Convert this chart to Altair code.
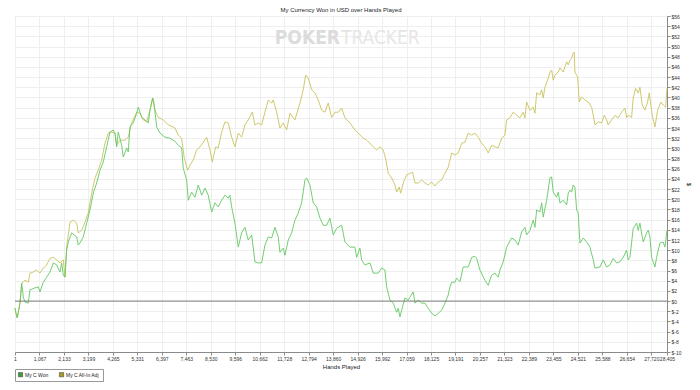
import altair as alt
import pandas as pd

chart_title = "My Currency Won in USD over Hands Played"
series_names = ["My C Won", "My C All-In Adj"]
line_colors = ["#62c862", "#c9c25c"]
legend_colors = ["#3d9e3d", "#a89f1e"]
x_ticks = [1, 1067, 2133, 3199, 4265, 5331, 6397, 7463, 8530, 9596, 10662, 11728,
           12794, 13860, 14926, 15992, 17059, 18125, 19191, 20257, 21323, 22389,
           23455, 24521, 25588, 26654, 27720, 28405]
y_ticks = list(range(-10, 57, 2))

won_hands = [1, 44, 100, 218, 292, 362, 436, 579, 653, 871,
             1015, 1089, 1233, 1381, 1525, 1668, 1816, 1960, 2034, 2104,
             2178, 2252, 2322, 2470, 2688, 2757, 2831, 2975, 3123, 3267,
             3411, 3559, 3703, 3846, 3994, 4138, 4282, 4356, 4430, 4500,
             4648, 4718, 4866, 4935, 5009, 5153, 5301, 5371, 5519, 5663,
             5807, 5881, 5998, 6055, 6173, 6316, 6534, 6752, 6970, 7114,
             7261, 7331, 7479, 7549, 7697, 7841, 7985, 8133, 8277, 8420,
             8569, 8712, 8856, 9004, 9148, 9291, 9365, 9440, 9583, 9727,
             9875, 10019, 10163, 10311, 10454, 10598, 10746, 10890, 11034, 11182,
             11326, 11469, 11543, 11687, 11761, 11905, 12053, 12197, 12341, 12489,
             12632, 12706, 12850, 12994, 13142, 13286, 13430, 13578, 13721, 13865,
             14013, 14157, 14231, 14375, 14593, 14810, 14885, 15028, 15102, 15246,
             15464, 15608, 15826, 15974, 16117, 16191, 16335, 16479, 16627, 16697,
             16771, 16845, 16988, 17132, 17206, 17350, 17424, 17568, 17716, 17860,
             18003, 18151, 18295, 18439, 18587, 18731, 18874, 18949, 19023, 19166,
             19240, 19384, 19528, 19746, 19894, 20038, 20112, 20255, 20473, 20617,
             20765, 20909, 21053, 21127, 21271, 21419, 21636, 21780, 21924, 22072,
             22216, 22290, 22434, 22578, 22652, 22726, 22870, 22944, 23013, 23162,
             23305, 23379, 23449, 23597, 23667, 23741, 23885, 24033, 24103, 24177,
             24251, 24320, 24394, 24468, 24538, 24612, 24756, 24904, 25047, 25191,
             25265, 25483, 25627, 25775, 25918, 26062, 26210, 26354, 26498, 26646,
             26716, 26790, 26934, 27082, 27152, 27226, 27369, 27517, 27587, 27661,
             27735, 27879, 27953, 28097, 28241, 28315, 28404]
won_usd = [-1.4, -2.4, -3.3, -0.4, 3.5, 0.8, -0.2, -0.4, 2.2, 2.6,
           2.8, 1.8, 3.7, 4.7, 5.7, 7.5, 7.1, 5.7, 7.5, 5.1,
           4.7, 10.0, 11.6, 13.4, 12.6, 11.0, 11.4, 12.6, 15.3, 17.9,
           21.2, 23.2, 25.7, 27.3, 30.3, 33.2, 33.6, 33.0, 30.3, 33.2,
           30.6, 28.3, 30.1, 29.3, 34.2, 35.0, 36.9, 38.1, 36.1, 35.6,
           35.0, 37.5, 39.9, 38.9, 34.2, 33.0, 32.2, 32.0, 31.4, 30.6,
           30.1, 26.1, 23.8, 19.8, 21.4, 20.4, 22.8, 20.8, 22.2, 20.8,
           17.5, 19.3, 18.5, 19.8, 20.8, 20.2, 20.8, 18.5, 15.3, 10.6,
           13.4, 14.5, 12.0, 13.0, 7.7, 7.5, 7.5, 11.0, 12.6, 12.4,
           14.5, 12.6, 9.6, 10.4, 9.0, 12.0, 13.4, 15.9, 17.3, 19.3,
           23.8, 24.2, 22.8, 19.3, 18.5, 16.3, 14.9, 14.9, 16.3, 13.0,
           14.3, 14.7, 14.9, 11.6, 10.6, 10.6, 8.6, 10.4, 8.1, 7.1,
           7.5, 5.5, 5.5, 6.5, 6.1, 2.8, 0.2, -0.4, -2.2, -1.4,
           -3.1, -1.8, 0.6, 0.2, 0.8, 1.8, -0.4, 0.2, -0.4, -0.4,
           -1.4, -2.4, -2.9, -2.4, -1.8, -0.4, 1.2, 2.8, 3.7, 3.7,
           4.5, 3.8, 6.7, 6.7, 8.6, 8.8, 8.4, 6.1, 4.1, 3.1,
           5.1, 5.5, 4.7, 6.1, 7.7, 10.6, 12.4, 12.0, 11.0, 13.6,
           14.5, 13.0, 13.9, 15.9, 14.5, 17.9, 17.5, 19.3, 16.5, 19.8,
           24.2, 24.4, 21.4, 20.4, 21.4, 19.3, 19.8, 18.9, 21.2, 21.8,
           21.4, 22.8, 22.4, 17.9, 17.3, 11.4, 12.4, 11.6, 10.6, 8.1,
           6.5, 6.7, 8.1, 6.7, 7.1, 8.4, 7.5, 7.7, 8.6, 10.0,
           8.1, 8.6, 14.3, 15.3, 13.9, 15.3, 11.6, 13.4, 13.9, 12.6,
           8.6, 6.7, 8.6, 11.4, 11.6, 10.6, 13.9]

adj_hands = [1, 44, 100, 218, 292, 436, 579, 653, 797, 945,
             1089, 1233, 1381, 1525, 1668, 1816, 1960, 2104, 2178, 2252,
             2396, 2540, 2688, 2757, 2905, 3049, 3193, 3341, 3485, 3629,
             3777, 3920, 4064, 4212, 4356, 4430, 4574, 4792, 4935, 5083,
             5301, 5445, 5589, 5737, 5881, 5998, 6098, 6242, 6460, 6678,
             6896, 6970, 7114, 7261, 7375, 7523, 7623, 7767, 7915, 8059,
             8203, 8351, 8495, 8595, 8743, 8856, 9004, 9148, 9291, 9365,
             9440, 9583, 9727, 9875, 10019, 10163, 10337, 10454, 10598, 10746,
             10890, 11034, 11182, 11252, 11400, 11543, 11687, 11835, 11979, 12123,
             12197, 12415, 12559, 12663, 12776, 12924, 13068, 13212, 13360, 13504,
             13648, 13796, 13940, 14083, 14231, 14375, 14593, 14810, 14954, 15172,
             15320, 15464, 15608, 15756, 15900, 16043, 16161, 16261, 16409, 16553,
             16627, 16740, 16801, 16915, 17063, 17206, 17324, 17424, 17568, 17716,
             17860, 18003, 18151, 18295, 18439, 18587, 18731, 18874, 19023, 19166,
             19310, 19458, 19602, 19746, 19894, 20038, 20182, 20330, 20473, 20617,
             20765, 20909, 21053, 21201, 21345, 21419, 21562, 21706, 21854, 21998,
             22142, 22216, 22290, 22434, 22578, 22652, 22726, 22870, 22944, 23013,
             23087, 23205, 23305, 23379, 23449, 23523, 23667, 23741, 23885, 24033,
             24103, 24177, 24251, 24320, 24364, 24394, 24512, 24582, 24686, 24830,
             24974, 25122, 25191, 25265, 25409, 25557, 25670, 25775, 25845, 25993,
             26137, 26280, 26429, 26572, 26646, 26716, 26864, 26934, 27038, 27152,
             27226, 27326, 27443, 27561, 27631, 27705, 27779, 27879, 27997, 28141,
             28241, 28345, 28404]
adj_usd = [-1.4, -2.4, -3.3, -0.4, 3.5, 4.1, 3.7, 5.5, 5.7, 6.1,
           5.5, 6.5, 7.1, 8.4, 8.6, 8.1, 7.5, 8.1, 4.7, 10.6,
           15.5, 15.9, 15.3, 13.4, 13.9, 15.5, 17.3, 21.2, 24.2, 25.7,
           27.7, 31.0, 33.0, 33.2, 33.0, 30.6, 31.6, 31.6, 32.2, 35.0,
           37.1, 36.9, 35.6, 35.2, 37.5, 39.9, 37.5, 36.1, 35.6, 34.6,
           34.2, 34.0, 32.6, 32.0, 28.1, 25.7, 26.7, 27.7, 29.7, 30.3,
           31.2, 32.2, 29.7, 27.3, 30.3, 30.1, 33.2, 35.2, 35.0, 33.6,
           32.2, 30.3, 33.0, 32.2, 34.6, 35.6, 37.1, 34.6, 35.0, 34.6,
           37.1, 39.5, 38.9, 39.5, 37.1, 34.0, 35.0, 33.6, 36.9, 36.0,
           35.6, 38.9, 41.5, 44.4, 43.8, 41.5, 40.9, 39.5, 37.5, 37.1,
           38.9, 36.1, 37.1, 37.1, 37.9, 36.0, 35.0, 33.6, 33.0, 32.0,
           31.6, 31.0, 30.3, 29.7, 30.3, 29.7, 27.7, 25.1, 24.2, 22.8,
           21.4, 22.4, 21.2, 23.2, 24.8, 25.1, 25.3, 23.2, 23.2, 23.8,
           23.2, 22.8, 23.4, 22.6, 23.4, 23.8, 25.1, 26.3, 29.1, 28.7,
           29.1, 31.0, 31.2, 33.0, 32.6, 33.0, 32.2, 31.0, 30.3, 29.1,
           30.6, 30.3, 30.1, 32.0, 32.6, 35.6, 36.0, 37.1, 36.5, 36.0,
           37.1, 36.0, 39.1, 37.5, 38.1, 36.9, 40.9, 40.5, 41.5, 39.9,
           42.0, 43.4, 45.0, 45.4, 43.4, 44.4, 45.0, 45.8, 45.0, 47.0,
           46.4, 47.3, 47.7, 48.7, 48.9, 45.0, 44.0, 39.1, 40.1, 39.5,
           39.1, 38.1, 36.5, 34.6, 35.2, 35.0, 36.5, 35.6, 34.6, 35.6,
           36.5, 36.0, 37.1, 37.9, 36.0, 36.5, 36.1, 39.9, 41.8, 40.9,
           42.0, 38.5, 37.5, 39.1, 40.9, 38.5, 36.1, 34.2, 37.5, 39.1,
           38.5, 38.1, 41.8]

FONT = "Liberation Sans"
WM_FONT = "'DejaVu Sans Condensed', Roboto, 'Liberation Sans', sans-serif"

won_df = pd.DataFrame({"hands": won_hands, "usd": won_usd, "series": series_names[0]})
adj_df = pd.DataFrame({"hands": adj_hands, "usd": adj_usd, "series": series_names[1]})

x_enc = alt.X("hands:Q",
              scale=alt.Scale(domain=[1, 28405], nice=False, zero=False),
              axis=alt.Axis(values=x_ticks, format=",d", title="Hands Played",
                            labelFontSize=5, titleFontSize=6, labelOverlap=False,
                            labelFlush=False, tickSize=3, labelPadding=1,
                            titlePadding=2, grid=True))
y_enc = alt.Y("usd:Q",
              scale=alt.Scale(domain=[-10, 56], nice=False, zero=False),
              axis=alt.Axis(orient="right", values=y_ticks,
                            labelExpr="'$' + datum.value", title="$",
                            labelFontSize=5, titleFontSize=6, tickSize=3,
                            labelPadding=1, titlePadding=4, grid=True,
                            labelOverlap=False))

adj_line = alt.Chart(adj_df).mark_line(strokeWidth=0.9, color=line_colors[1]).encode(
    x=x_enc, y=y_enc, order="hands:Q")
won_line = alt.Chart(won_df).mark_line(strokeWidth=0.9, color=line_colors[0]).encode(
    x=x_enc, y=y_enc, order="hands:Q")

zero_rule = alt.Chart(pd.DataFrame({"usd": [0]})).mark_rule(
    color="#7a7a7a", strokeWidth=1).encode(y=y_enc)

legend_layer = alt.Chart(pd.DataFrame({"series": series_names})).mark_square(
    opacity=0).encode(
    fill=alt.Fill("series:N",
                  scale=alt.Scale(domain=series_names, range=legend_colors),
                  legend=alt.Legend(orient="none", legendX=0, legendY=353,
                                    direction="horizontal", title=None,
                                    symbolType="square", symbolSize=18,
                                    symbolOpacity=1, symbolStrokeColor="#333",
                                    symbolStrokeWidth=0.5, labelFontSize=5,
                                    labelFont=FONT, labelColor="#222",
                                    padding=3, strokeColor="#999",
                                    columnPadding=9, labelOffset=2)))

wm_poker = alt.Chart(pd.DataFrame({"t": ["POKER"]})).mark_text(
    font=WM_FONT, fontSize=19, fontWeight="bold",
    color="#dcdcdc", align="right", baseline="middle").encode(
    text="t:N", x=alt.value(325), y=alt.value(22))
wm_tracker = alt.Chart(pd.DataFrame({"t": ["TRACKER"]})).mark_text(
    font=WM_FONT, fontSize=19, fontWeight="normal",
    color="#e6e6e6", align="left", baseline="middle").encode(
    text="t:N", x=alt.value(326), y=alt.value(22))

chart = alt.layer(wm_poker, wm_tracker, adj_line, won_line, zero_rule, legend_layer).properties(
    width=652, height=336,
    title=alt.TitleParams(chart_title, fontSize=6, font=FONT, fontWeight="normal",
                          color="#222", offset=1, anchor="middle"),
    padding={"left": 7, "top": 8, "right": 25, "bottom": 34},
    autosize="none",
    background="white",
).configure_view(stroke="#9a9a9a", strokeWidth=1).configure_axis(
    labelFont=FONT, titleFont=FONT, labelColor="#333", titleColor="#222",
    titleFontWeight="normal", gridColor="#efefef", gridWidth=1,
    domainColor="#8a8a8a", tickColor="#8a8a8a")

chart.save("out.html", embed_options={"renderer": "svg", "actions": False})
